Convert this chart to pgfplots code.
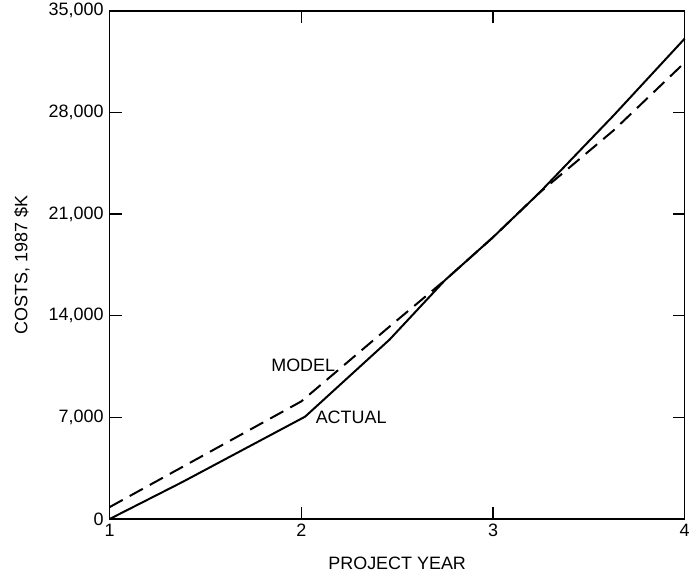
\documentclass[border=0pt]{standalone}
\usepackage{pgfplots}
\pgfplotsset{compat=1.18}
\usepackage{fontspec}
\setmainfont{Liberation Sans}
\begin{document}
\begin{tikzpicture}
\begin{axis}[
  scale only axis,
  width=577pt, height=510pt,
  line width=1.6pt,
  xmin=1, xmax=4, ymin=0, ymax=35000,
  xtick={1,2,3,4},
  ytick={0,7000,14000,21000,28000,35000},
  yticklabels={0,{7,000},{14,000},{21,000},{28,000},{35,000}},
  scaled y ticks=false,
  tick align=inside,
  major tick length=12pt,
  every tick/.style={black, line width=1.3pt},
  /pgf/number format/assume math mode=true,
  tick label style={font=\fontsize{18}{20}\selectfont},
  label style={font=\fontsize{18}{20}\selectfont},
  xlabel={PROJECT YEAR},
  ylabel={COSTS, 1987 \$K},
  xlabel style={at={(axis description cs:0.5,-0.088)}, anchor=center},
  ylabel style={at={(axis description cs:-0.1525,0.5)}, anchor=center},
  xticklabel style={yshift=-1pt},
  yticklabel style={xshift=-2pt},
  clip=false,
]
\addplot[black, line width=2pt] coordinates {
(1,0) (1.38,2550) (2.02,7050) (2.46,12350) (2.75,16450) (3,19400) (3.24,22440) (3.63,27800) (4,33080)
};
\addplot[black, line width=2pt, dash pattern=on 15pt off 8pt] coordinates {
(1,820) (2,8100) (2.46,13250) (2.75,16450) (3,19400) (3.24,22440) (3.63,26770) (4,31430)
};
\node[font=\fontsize{18}{20}\selectfont] at (axis cs:2.01,10600) {MODEL};
\node[font=\fontsize{18}{20}\selectfont] at (axis cs:2.26,7000) {ACTUAL};
\end{axis}
\path (current axis.south west) ++(-110pt,-61pt) (current axis.north east) ++(6pt,10pt);
\end{tikzpicture}
\end{document}
